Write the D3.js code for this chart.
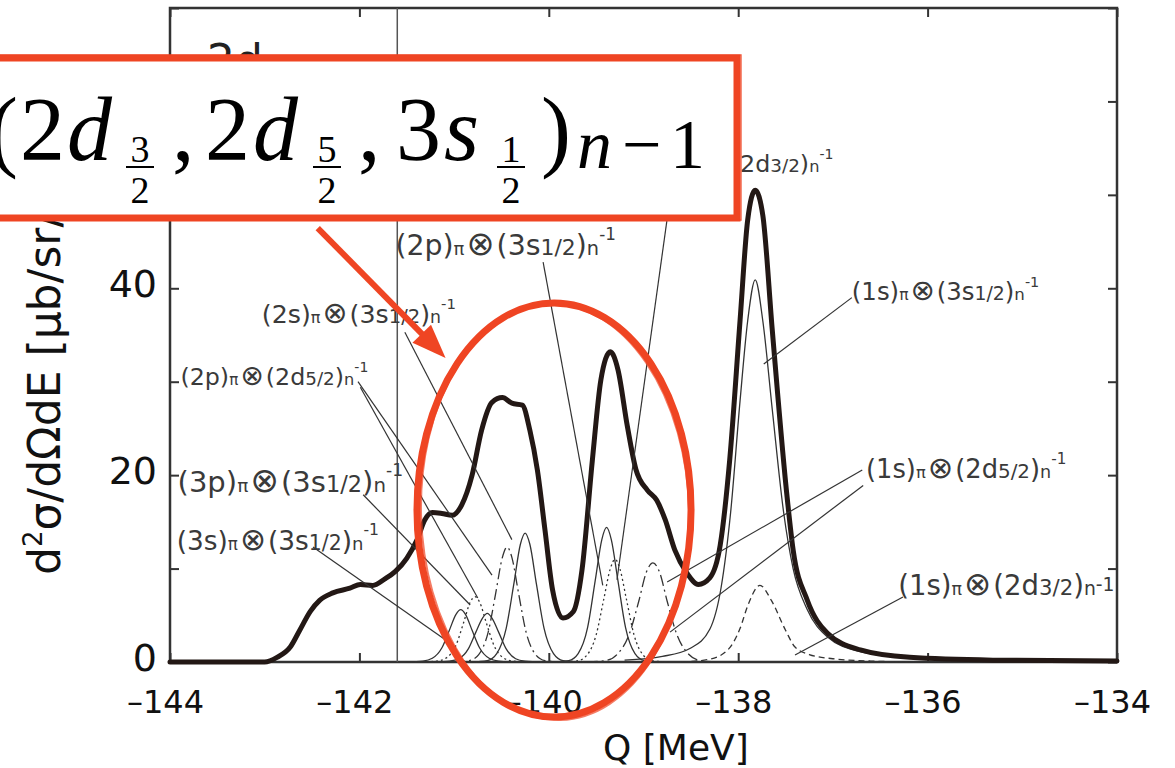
<!DOCTYPE html>
<html>
<head>
<meta charset="utf-8">
<script src="https://cdn.jsdelivr.net/npm/d3@7"></script>
<style>
  html, body { margin: 0; padding: 0; background: #fff; }
  svg { display: block; }
</style>
</head>
<body>
<svg id="chart" width="1175" height="768"></svg>
<script>
// ---------- data ----------
const xTicks = [-144, -142, -140, -138, -136, -134];
const yTicks = [0, 10, 20, 30, 40, 50, 60, 70];
const yLabelled = [0, 20, 40, 60];

// total spectrum (thick line)
const totalQ = [-144, -143.0, -142.87, -142.73, -142.63, -142.52, -142.42, -142.28, -142.10, -141.99,
  -141.86, -141.73, -141.62, -141.50, -141.39, -141.31, -141.23, -141.13, -141.02, -140.92,
  -140.81, -140.71, -140.60, -140.49, -140.39, -140.28, -140.20, -140.12, -140.04, -139.96,
  -139.85, -139.74, -139.65, -139.54, -139.45, -139.35, -139.27, -139.17, -139.08, -138.96,
  -138.86, -138.77, -138.67, -138.54, -138.42, -138.30, -138.19, -138.09, -137.98, -137.90,
  -137.82, -137.74, -137.64, -137.48, -137.42, -137.27, -137.06, -136.71, -136.19, -135.31, -134];
const totalV = [0, 0, 0.5, 1.6, 3.4, 5.4, 6.6, 7.4, 7.9, 8.3,
  8.2, 8.9, 9.7, 11.1, 13.1, 15.2, 16.0, 15.9, 15.7, 16.8,
  20.0, 24.8, 27.8, 28.3, 27.7, 27.5, 24.8, 20.5, 14.1, 7.7,
  4.7, 5.4, 9.8, 21.6, 30.2, 33.2, 31.3, 25.2, 20.6, 18.4,
  17.3, 15.2, 12.0, 9.5, 8.3, 9.0, 12.5, 21.6, 36.6, 47.3,
  50.5, 47.8, 35.5, 17.3, 12.0, 6.6, 3.1, 1.3, 0.5, 0.2, 0.1];

// individual particle-hole contributions [Q, value]
const comp3s3s = [[-141.5,0],[-141.33,0.1],[-141.23,0.4],[-141.13,1.5],[-141.05,3.4],[-140.98,5.1],[-140.93,5.6],
  [-140.88,5.1],[-140.81,3.4],[-140.73,1.5],[-140.63,0.4],[-140.53,0.1],[-140.35,0]];
const comp3p3s = [[-141.22,0],[-141.05,0.1],[-140.95,0.35],[-140.85,1.4],[-140.77,3.2],[-140.7,4.7],[-140.65,5.2],
  [-140.6,4.7],[-140.53,3.2],[-140.45,1.4],[-140.35,0.35],[-140.25,0.1],[-140.07,0]];
const comp2p2d3 = [[-141.35,0],[-141.18,0.1],[-141.08,0.45],[-140.98,1.8],[-140.9,4.2],[-140.83,6.4],[-140.78,7.0],
  [-140.73,6.4],[-140.66,4.2],[-140.58,1.8],[-140.48,0.45],[-140.38,0.1],[-140.2,0]];
const comp2p2d5 = [[-141.0,0],[-140.84,0.15],[-140.74,0.8],[-140.64,3.2],[-140.56,7.4],[-140.49,11.2],[-140.44,12.3],
  [-140.39,11.2],[-140.32,7.4],[-140.24,3.2],[-140.14,0.8],[-140.04,0.15],[-139.88,0]];
const comp2s3s = [[-140.82,0],[-140.65,0.15],[-140.55,0.9],[-140.45,3.6],[-140.37,8.3],[-140.3,12.6],[-140.25,13.8],
  [-140.2,12.6],[-140.13,8.3],[-140.05,3.6],[-139.95,0.9],[-139.85,0.15],[-139.68,0]];
const comp2p3s = [[-139.96,0],[-139.79,0.15],[-139.69,0.9],[-139.59,3.7],[-139.51,8.7],[-139.44,13.1],[-139.39,14.4],
  [-139.34,13.1],[-139.27,8.7],[-139.19,3.7],[-139.09,0.9],[-138.99,0.15],[-138.82,0]];
const comp2p2d3b = [[-139.87,0],[-139.7,0.12],[-139.6,0.7],[-139.5,2.9],[-139.42,6.7],[-139.35,10],[-139.3,11],
  [-139.25,10],[-139.18,6.7],[-139.1,2.9],[-139.0,0.7],[-138.9,0.12],[-138.73,0]];
const comp1s2d5 = [[-139.6,0],[-139.4,0.15],[-139.28,0.8],[-139.15,3.0],[-139.05,6.5],[-138.97,9.6],[-138.9,10.6],
  [-138.83,9.6],[-138.75,6.5],[-138.65,3.0],[-138.52,0.8],[-138.4,0.15],[-138.2,0]];
const comp1s3s = [[-139.2,0.2],[-138.8,0.6],[-138.5,1.5],[-138.3,3.5],[-138.18,8],[-138.08,16],[-137.98,28],
  [-137.9,36.5],[-137.82,40.9],[-137.74,36.5],[-137.64,27],[-137.52,16],[-137.42,10],[-137.27,5.6],
  [-137.06,2.7],[-136.71,1.1],[-136.2,0.45],[-135.3,0.15],[-134,0.05]];
const comp1s2d3 = [[-138.6,0],[-138.3,0.3],[-138.1,1.4],[-137.98,3.6],[-137.9,6.0],[-137.77,8.2],[-137.65,6.6],
  [-137.5,3.4],[-137.4,1.6],[-137.25,0.8],[-137.0,0.35],[-136.6,0.1],[-136.0,0]];

// state labels: proton orbital, neutron hole orbital, j
const stateNames = [
  ["2p", "3s", "1/2"], ["2s", "3s", "1/2"], ["2p", "2d", "5/2"], ["3p", "3s", "1/2"], ["3s", "3s", "1/2"],
  ["1s", "3s", "1/2"], ["1s", "2d", "5/2"], ["1s", "2d", "3/2"], ["2p", "2d", "3/2"]
];

// ---------- layout ----------
const red = "#ef4523";
const ink = "#231815";
const grey = "#333";
const x = d3.scaleLinear().domain([-144, -134]).range([170, 1117]);
const y = d3.scaleLinear().domain([0, 70]).range([662, 8]);
const svg = d3.select("#chart");

// frame
svg.append("rect")
  .attr("x", x(-144)).attr("y", y(70))
  .attr("width", x(-134) - x(-144)).attr("height", y(0) - y(70))
  .attr("fill", "none").attr("stroke", grey).attr("stroke-width", 2.5);

function styleTicks(g) {
  g.select(".domain").remove();
  g.selectAll(".tick line").attr("stroke", grey).attr("stroke-width", 2);
}
const gB = svg.append("g").attr("transform", `translate(0,${y(0)})`)
  .call(d3.axisBottom(x).tickValues(xTicks).tickSizeInner(-9).tickSizeOuter(0)
    .tickFormat(d => "–" + Math.abs(d)));
styleTicks(gB);
gB.selectAll(".tick text").attr("y", 51).attr("dy", 0).attr("dx", -5)
  .attr("font-family", "DejaVu Sans").attr("font-size", 32).attr("fill", "#111");

const gT = svg.append("g").attr("transform", `translate(0,${y(70)})`)
  .call(d3.axisTop(x).tickValues(xTicks).tickSizeInner(-9).tickSizeOuter(0).tickFormat(""));
styleTicks(gT);

const gL = svg.append("g").attr("transform", `translate(${x(-144)},0)`)
  .call(d3.axisLeft(y).tickValues(yTicks).tickSizeInner(-9).tickSizeOuter(0)
    .tickFormat(d => yLabelled.includes(d) ? d : ""));
styleTicks(gL);
gL.selectAll(".tick text").attr("x", -13).attr("y", 8).attr("dy", 0)
  .attr("font-family", "DejaVu Sans").attr("font-size", 38).attr("fill", "#111");

const gR = svg.append("g").attr("transform", `translate(${x(-134)},0)`)
  .call(d3.axisRight(y).tickValues(yTicks).tickSizeInner(-9).tickSizeOuter(0).tickFormat(""));
styleTicks(gR);

// vertical reference line
svg.append("line")
  .attr("x1", x(-141.6)).attr("x2", x(-141.6)).attr("y1", y(70)).attr("y2", y(0))
  .attr("stroke", "#555").attr("stroke-width", 1.5);

// ---------- curves ----------
const line = d3.line().x(d => x(d[0])).y(d => y(d[1])).curve(d3.curveMonotoneX);
const dash = { solid: null, dashed: "6,4", dashdot: "11,4,2,4", dotted: "2,3" };
const components = [
  [comp3s3s, "solid"], [comp3p3s, "solid"], [comp2p2d3, "dotted"], [comp2p2d5, "dashdot"],
  [comp2s3s, "solid"], [comp2p3s, "solid"], [comp2p2d3b, "dotted"], [comp1s2d5, "dashdot"],
  [comp1s3s, "solid"], [comp1s2d3, "dashed"]
];
svg.append("g").selectAll("path").data(components).join("path")
  .attr("d", d => line(d[0]))
  .attr("fill", "none").attr("stroke", grey).attr("stroke-width", 1.3)
  .attr("stroke-dasharray", d => dash[d[1]]);

svg.append("path")
  .attr("d", line(d3.zip(totalQ, totalV)))
  .attr("fill", "none").attr("stroke", ink).attr("stroke-width", 5)
  .attr("stroke-linejoin", "round").attr("stroke-linecap", "round");

// ---------- leader lines (data coordinates) ----------
const leaders = [
  [[-140.06, 42.8], [-139.43, 8.2]],
  [[-138.70, 51.1], [-139.28, 8.8]],
  [[-141.52, 35.3], [-140.39, 13.1]],
  [[-142.015, 30.0], [-140.60, 9.3]],
  [[-141.99, 29.4], [-140.75, 6.85]],
  [[-141.96, 17.9], [-140.83, 6.1]],
  [[-142.49, 12.3], [-141.04, 2.0]],
  [[-136.80, 39.0], [-137.73, 31.9]],
  [[-136.69, 20.55], [-138.75, 8.56]],
  [[-136.68, 18.9], [-138.72, 3.2]],
  [[-136.26, 6.96], [-137.40, 0.75]]
];
svg.append("g").selectAll("line").data(leaders).join("line")
  .attr("x1", d => x(d[0][0])).attr("y1", d => y(d[0][1]))
  .attr("x2", d => x(d[1][0])).attr("y2", d => y(d[1][1]))
  .attr("stroke", grey).attr("stroke-width", 1.2);

// ---------- state labels ----------
// [Q, value, scale, inline exponent, first part drawn]
const labelPos = [
  [-141.62, 43.56, 1.29, false, 0], [-143.03, 36.28, 1.15, false, 0], [-143.89, 29.65, 1.08, false, 0],
  [-143.92, 18.2, 1.32, false, 0], [-143.93, 12.0, 1.2, false, 0], [-136.80, 38.75, 1.11, false, 0],
  [-136.65, 19.7, 1.17, false, 0], [-136.31, 7.17, 1.25, true, 0], [-137.98, 52.45, 1.08, false, 3]
];
function drawLabel(parent, name, pos) {
  const [qx, vy, s, inline, from] = pos;
  const parts = [
    { t: "(" + name[0] + ")", fs: 22 },
    { t: "π", fs: 14 },
    { t: "⊗", fs: 26, dx: 2 },
    { t: from === 3 ? name[1] : "(" + name[1], fs: 22, dx: from === 3 ? 0 : 2 },
    { t: name[2], fs: 17 },
    { t: ")", fs: 22 },
    { t: "n", fs: 15 },
    inline ? { t: "-1", fs: 15, dy: -3 } : { t: "-1", fs: 13, dy: -12 }
  ].slice(from);
  const t = parent.append("text")
    .attr("x", x(qx)).attr("y", y(vy))
    .attr("font-family", "DejaVu Sans").attr("fill", "#3a3a3a");
  parts.forEach(p => {
    const ts = t.append("tspan").attr("font-size", p.fs * s).text(p.t);
    if (p.dx) ts.attr("dx", p.dx);
    if (p.dy) ts.attr("dy", p.dy * s);
  });
}
const gLab = svg.append("g");
stateNames.forEach((n, i) => drawLabel(gLab, n, labelPos[i]));

// panel mark at the top left of the plot
svg.append("text").attr("x", 207).attr("y", 76)
  .attr("font-family", "DejaVu Sans").attr("font-size", 44).attr("fill", "#222").text("2d");

// axis titles
const yt = svg.append("text").attr("transform", "translate(60,575) rotate(-90)")
  .attr("font-family", "DejaVu Sans").attr("font-size", 44).attr("fill", "#111");
yt.append("tspan").text("d");
yt.append("tspan").attr("font-size", 26).attr("dy", -18).text("2");
yt.append("tspan").attr("dy", 18).text("σ/dΩdE [μb/sr/MeV]");

svg.append("text").attr("x", 603).attr("y", 760)
  .attr("font-family", "DejaVu Sans").attr("font-size", 36).attr("fill", "#111").text("Q [MeV]");

// ---------- callout box ----------
const box = svg.append("g");
box.append("rect").attr("x", -12).attr("y", 58).attr("width", 749).attr("height", 160)
  .attr("fill", "#fff").attr("stroke", red).attr("stroke-width", 7);
box.append("rect").attr("x", -10).attr("y", 55).attr("width", 751).attr("height", 165)
  .attr("fill", "none").attr("stroke", red).attr("stroke-width", 1.5).attr("opacity", 0.8);

const serif = "Liberation Serif";
function mtext(xp, yp, str, size, italic, anchor) {
  box.append("text").attr("x", xp).attr("y", yp)
    .attr("font-family", serif).attr("font-size", size)
    .attr("font-style", italic ? "italic" : "normal")
    .attr("text-anchor", anchor || "start").attr("fill", "#000").text(str);
}
function frac(cx, num, den) {
  mtext(cx, 162, num, 38, false, "middle");
  box.append("line").attr("x1", cx - 14).attr("x2", cx + 14).attr("y1", 167).attr("y2", 167)
    .attr("stroke", "#000").attr("stroke-width", 2);
  mtext(cx, 203, den, 38, false, "middle");
}
mtext(-12, 160, "(", 90);
mtext(20, 160, "2", 90);
mtext(67, 160, "d", 90, true);
frac(140, "3", "2");
mtext(172, 160, ",", 90);
mtext(205, 160, "2", 90);
mtext(253, 160, "d", 90, true);
frac(327, "5", "2");
mtext(358, 160, ",", 90);
mtext(396, 160, "3", 90);
mtext(444, 160, "s", 90, true);
frac(511, "1", "2");
mtext(541, 160, ")", 90);
mtext(577, 168, "n", 70, true);
mtext(622, 168, "−", 70);
mtext(670, 168, "1", 70);

// ---------- arrow and ellipse highlight ----------
const a0 = [x(-142.44), y(46.45)], a1 = [x(-141.09), y(32.54)];
const ang = Math.atan2(a1[1] - a0[1], a1[0] - a0[0]);
const back = 34, half = 13;
const bx = a1[0] - back * Math.cos(ang), by = a1[1] - back * Math.sin(ang);
svg.append("line").attr("x1", a0[0]).attr("y1", a0[1]).attr("x2", bx + 8 * Math.cos(ang)).attr("y2", by + 8 * Math.sin(ang))
  .attr("stroke", red).attr("stroke-width", 6);
svg.append("polygon")
  .attr("points", [
    a1,
    [bx + half * Math.sin(ang), by - half * Math.cos(ang)],
    [bx - half * Math.sin(ang), by + half * Math.cos(ang)]
  ].map(p => p.join(",")).join(" "))
  .attr("fill", red);

const ec = [x(-139.945), y(16.27)];
const erx = x(-139.945 + 1.447) - x(-139.945);
const ery = y(0) - y(22.16);
svg.append("ellipse").attr("cx", ec[0]).attr("cy", ec[1]).attr("rx", erx).attr("ry", ery)
  .attr("fill", "none").attr("stroke", red).attr("stroke-width", 7);
svg.append("ellipse").attr("cx", ec[0] + 1).attr("cy", ec[1] + 2).attr("rx", erx - 3).attr("ry", ery + 1)
  .attr("fill", "none").attr("stroke", red).attr("stroke-width", 2).attr("opacity", 0.7)
  .attr("transform", `rotate(-1.5,${ec[0]},${ec[1]})`);
</script>
</body>
</html>
